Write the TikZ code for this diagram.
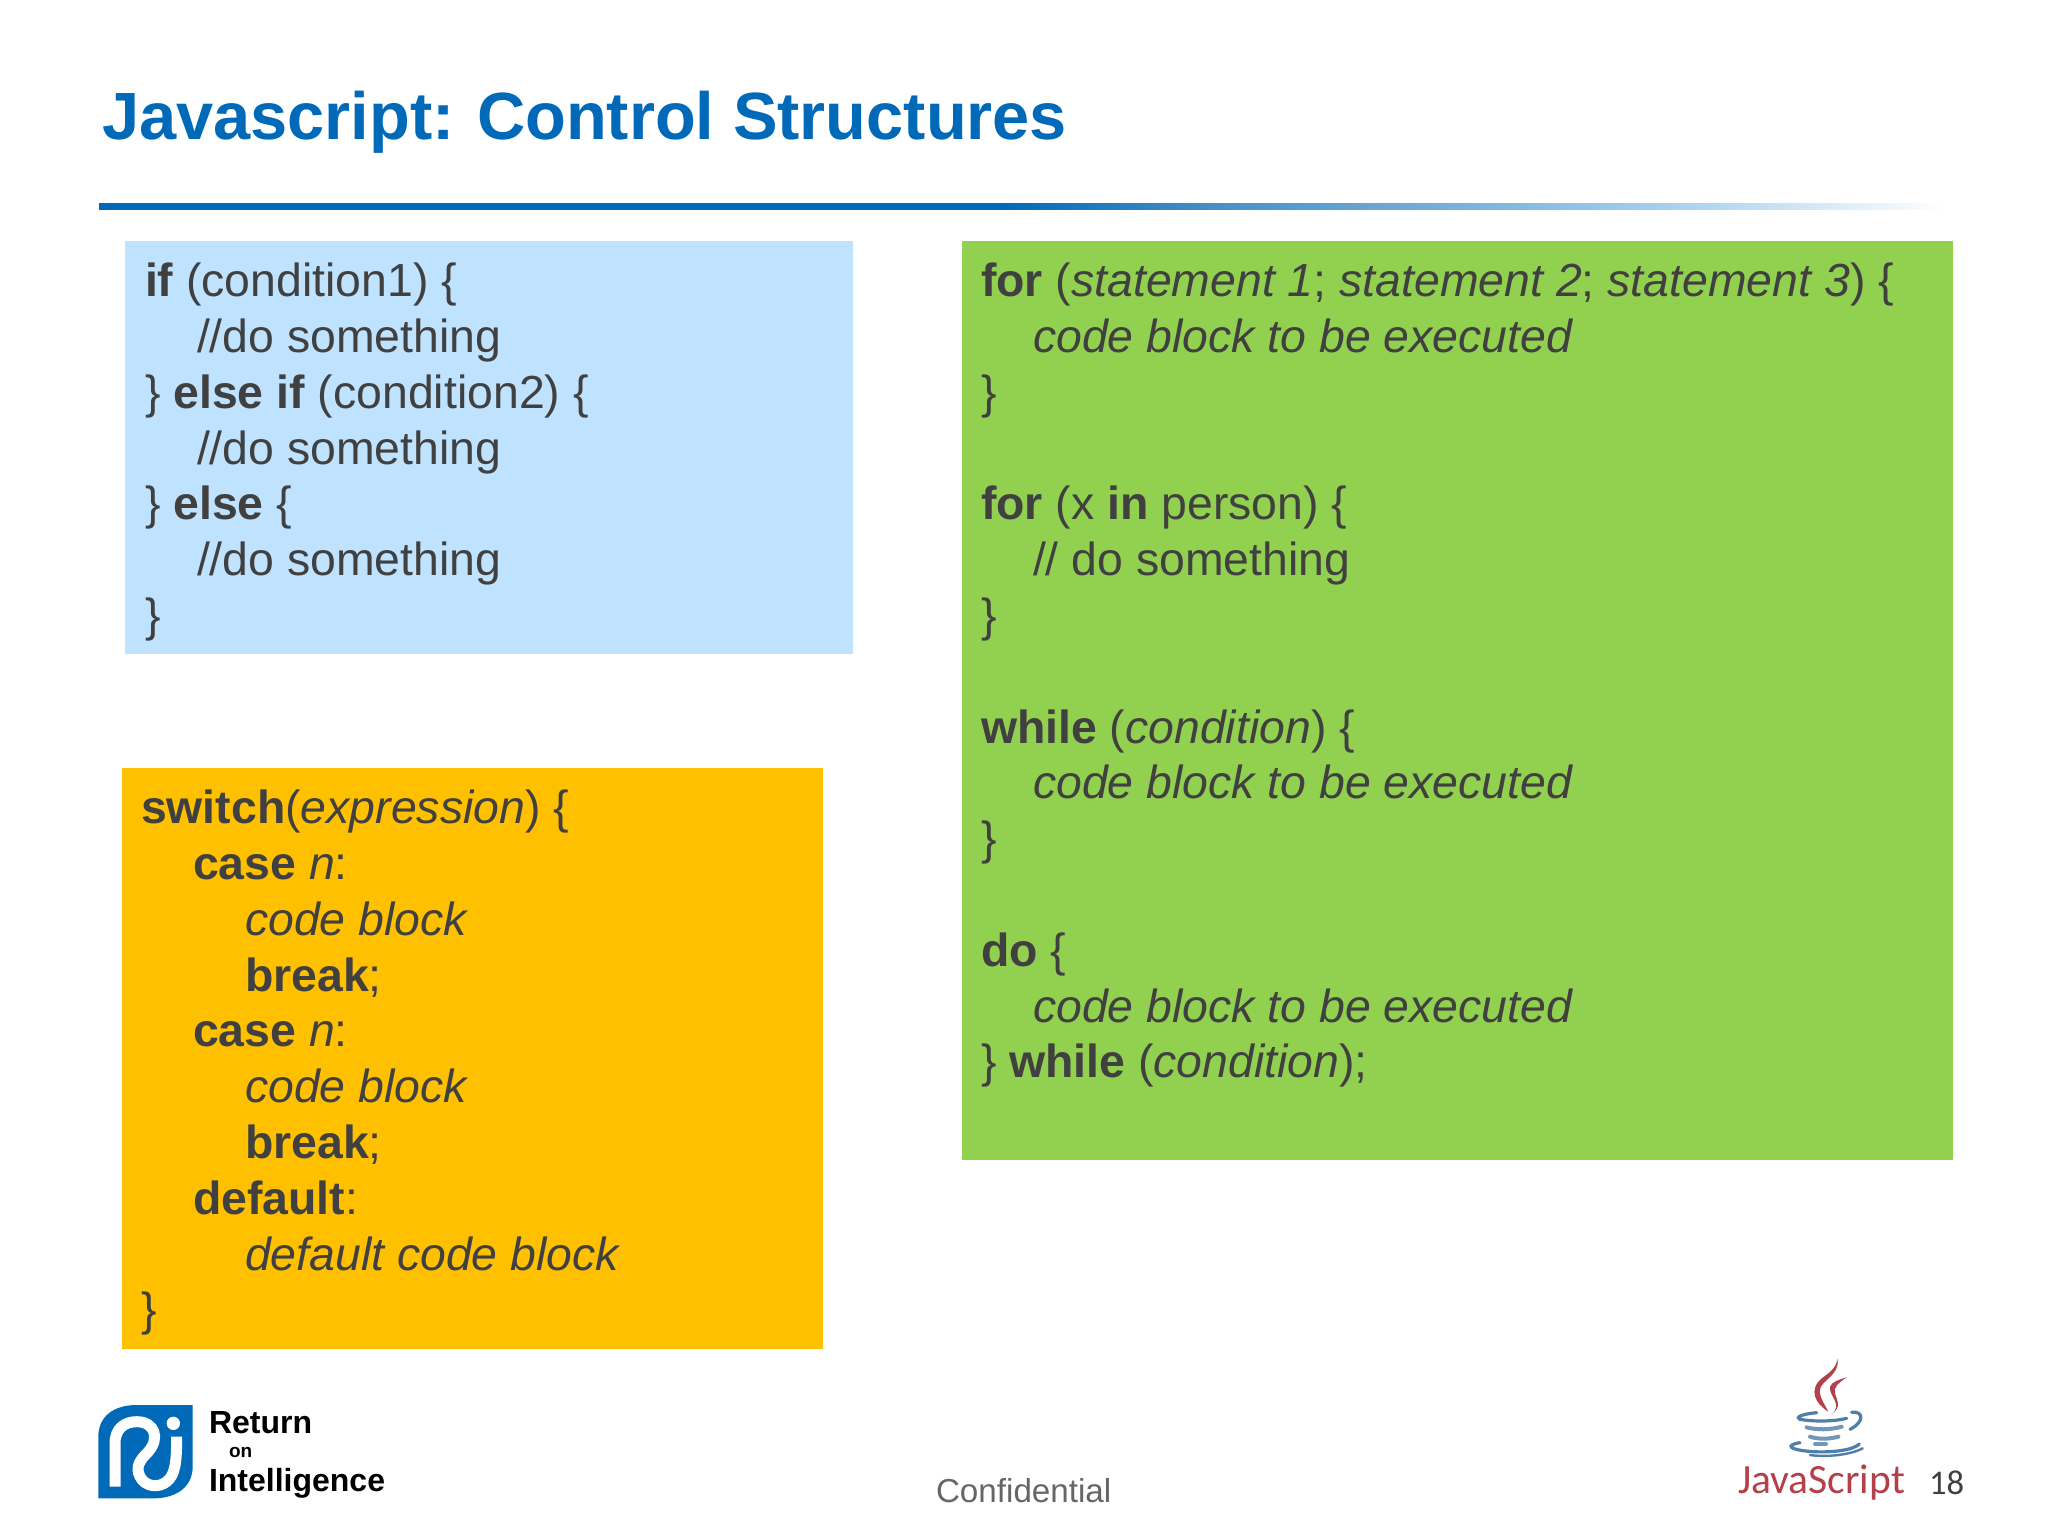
\documentclass[tikz,border=0pt]{standalone}
\usepackage{fontspec}
\setmainfont{Liberation Sans}
\newfontfamily\carl{Carlito}
\definecolor{titleblue}{HTML}{006AB8}
\definecolor{codeink}{HTML}{404040}
\definecolor{bluebox}{HTML}{BFE2FE}
\definecolor{orangebox}{HTML}{FFC000}
\definecolor{greenbox}{HTML}{92D050}
\definecolor{jsred}{HTML}{B5404A}
\definecolor{jsblue}{HTML}{4F7FA8}
\definecolor{fadea}{HTML}{4A90C8}
\definecolor{fadeb}{HTML}{80B8E0}
\definecolor{fadec}{HTML}{B0D5F0}
\pgfdeclarehorizontalshading{rulefade}{100bp}{
  color(0bp)=(titleblue);
  color(25bp)=(titleblue);
  color(49.4bp)=(titleblue);
  color(55.4bp)=(fadea);
  color(63bp)=(fadeb);
  color(68.4bp)=(fadec);
  color(75bp)=(white);
  color(100bp)=(white)}
\newcommand{\ind}{\hspace*{26pt}}
\newcommand{\bb}[1]{\textbf{#1}}
\newcommand{\ii}[1]{\textit{#1}}
\tikzset{
  code/.style={inner sep=0pt,outer sep=0pt,anchor=north west,align=left,text=codeink,
    font=\fontsize{23.2pt}{27.9pt}\selectfont},
  lbl/.style={inner sep=0pt,outer sep=0pt,anchor=base west},
}
\begin{document}
\begin{tikzpicture}[x=0.5pt,y=-0.5pt]
\useasboundingbox (0,0) rectangle (2048,1536);
\fill[white] (0,0) rectangle (2048,1536);
\node[lbl,text=titleblue,font=\bfseries\fontsize{33.4pt}{36pt}\selectfont] (title) at (102,140) {Javascript:\hspace{-1.2pt} Control Structures};
\shade[shading=rulefade] (99,203) rectangle (1945,209);
\fill[bluebox] (125,241) rectangle (853,654);
\fill[orangebox] (122,768) rectangle (823,1349);
\fill[greenbox] (962,241) rectangle (1953,1160);
\node[code] (ifblock) at (145,263) {\bb{if} (condition1) \{\\
\ind//do something\\
\} \bb{else if} (condition2) \{\\
\ind//do something\\
\} \bb{else} \{\\
\ind//do something\\
\}};
\node[code] (switchblock) at (141,790) {\bb{switch}(\ii{expression}) \{\\
\ind\bb{case} \ii{n}:\\
\ind\ind\ii{code block}\\
\ind\ind\bb{break};\\
\ind\bb{case} \ii{n}:\\
\ind\ind\ii{code block}\\
\ind\ind\bb{break};\\
\ind\bb{default}:\\
\ind\ind\ii{default code block}\\
\}};
\node[code] (loopblock) at (981,263) {\bb{for} (\ii{statement 1}; \ii{statement 2}; \ii{statement 3}) \{\\
\ind\ii{code block to be executed}\\
\}\\
\mbox{}\\
\bb{for} (x \bb{in} person) \{\\
\ind// do something\\
\}\\
\mbox{}\\
\bb{while} (\ii{condition}) \{\\
\ind\ii{code block to be executed}\\
\}\\
\mbox{}\\
\bb{do} \{\\
\ind\ii{code block to be executed}\\
\} \bb{while} (\ii{condition});};
\node[lbl,text=black!60,font=\fontsize{16.6pt}{18pt}\selectfont] (conf) at (936,1502) {Confidential};
\node[lbl,text=codeink,font=\carl\fontsize{17.3pt}{18pt}\selectfont] (pagenum) at (1929,1494) {18};
% Return on Intelligence logo
\begin{scope}[shift={(80,1380)},xscale=1/3,yscale=1/3]
\fill[titleblue] (55,355) -- (55,170) .. controls (55,110) and (100,75) .. (170,75) -- (338,75) -- (338,260) .. controls (338,320) and (290,355) .. (220,355) -- cycle;
\draw[white,line width=5.5pt,line cap=butt] (105,320) -- (105,190) .. controls (105,145) and (135,125) .. (170,125) .. controls (225,125) and (240,175) .. (205,215) .. controls (180,240) and (165,260) .. (180,290) .. controls (195,320) and (235,325) .. (260,305) .. controls (285,285) and (290,250) .. (290,170);
\fill[white] (280,130) circle (20);
\end{scope}
\node[lbl,font=\bfseries\fontsize{16pt}{17pt}\selectfont] (ret) at (209,1433) {Return};
\node[lbl,font=\bfseries\fontsize{9.5pt}{10pt}\selectfont] (on) at (229,1457) {on};
\node[lbl,font=\bfseries\fontsize{16pt}{17pt}\selectfont] (intel) at (209,1491) {Intelligence};
% JavaScript logo
\begin{scope}[shift={(1700,1340)},xscale=1/3,yscale=1/3]
\fill[jsred] (385,215) .. controls (345,190) and (325,150) .. (365,115) .. controls (385,100) and (410,85) .. (412,55) .. controls (420,90) and (390,110) .. (370,130) .. controls (345,155) and (370,185) .. (385,215) -- cycle;
\fill[jsred] (395,222) .. controls (430,195) and (385,165) .. (390,140) .. controls (395,125) and (420,118) .. (440,112) .. controls (415,130) and (400,140) .. (405,160) .. controls (412,185) and (425,200) .. (395,222) -- cycle;
\draw[jsblue,line width=1.6pt,line cap=round] (350,218) .. controls (305,222) and (285,232) .. (300,238) .. controls (340,245) and (400,245) .. (440,235);
\draw[jsblue,line width=1.6pt,line cap=round] (455,217) .. controls (490,212) and (495,245) .. (450,268);
\draw[jsblue!80,line width=2pt,line cap=round] (320,262) .. controls (350,270) and (390,270) .. (425,260);
\draw[jsblue!80,line width=2pt,line cap=round] (330,290) .. controls (355,298) and (385,298) .. (415,290);
\draw[jsblue!80,line width=2pt,line cap=round] (345,312) -- (378,312);
\draw[jsblue,line width=1.6pt,line cap=round] (300,308) .. controls (255,315) and (265,330) .. (340,335) .. controls (400,338) and (460,330) .. (478,312);
\draw[jsblue,line width=1.2pt,line cap=round] (330,345) .. controls (380,352) and (450,345) .. (488,325);
\end{scope}
\node[lbl,text=jsred,font=\carl\fontsize{20.8pt}{22pt}\selectfont] (jstext) at (1738,1493) {JavaScript};
\end{tikzpicture}
\end{document}
